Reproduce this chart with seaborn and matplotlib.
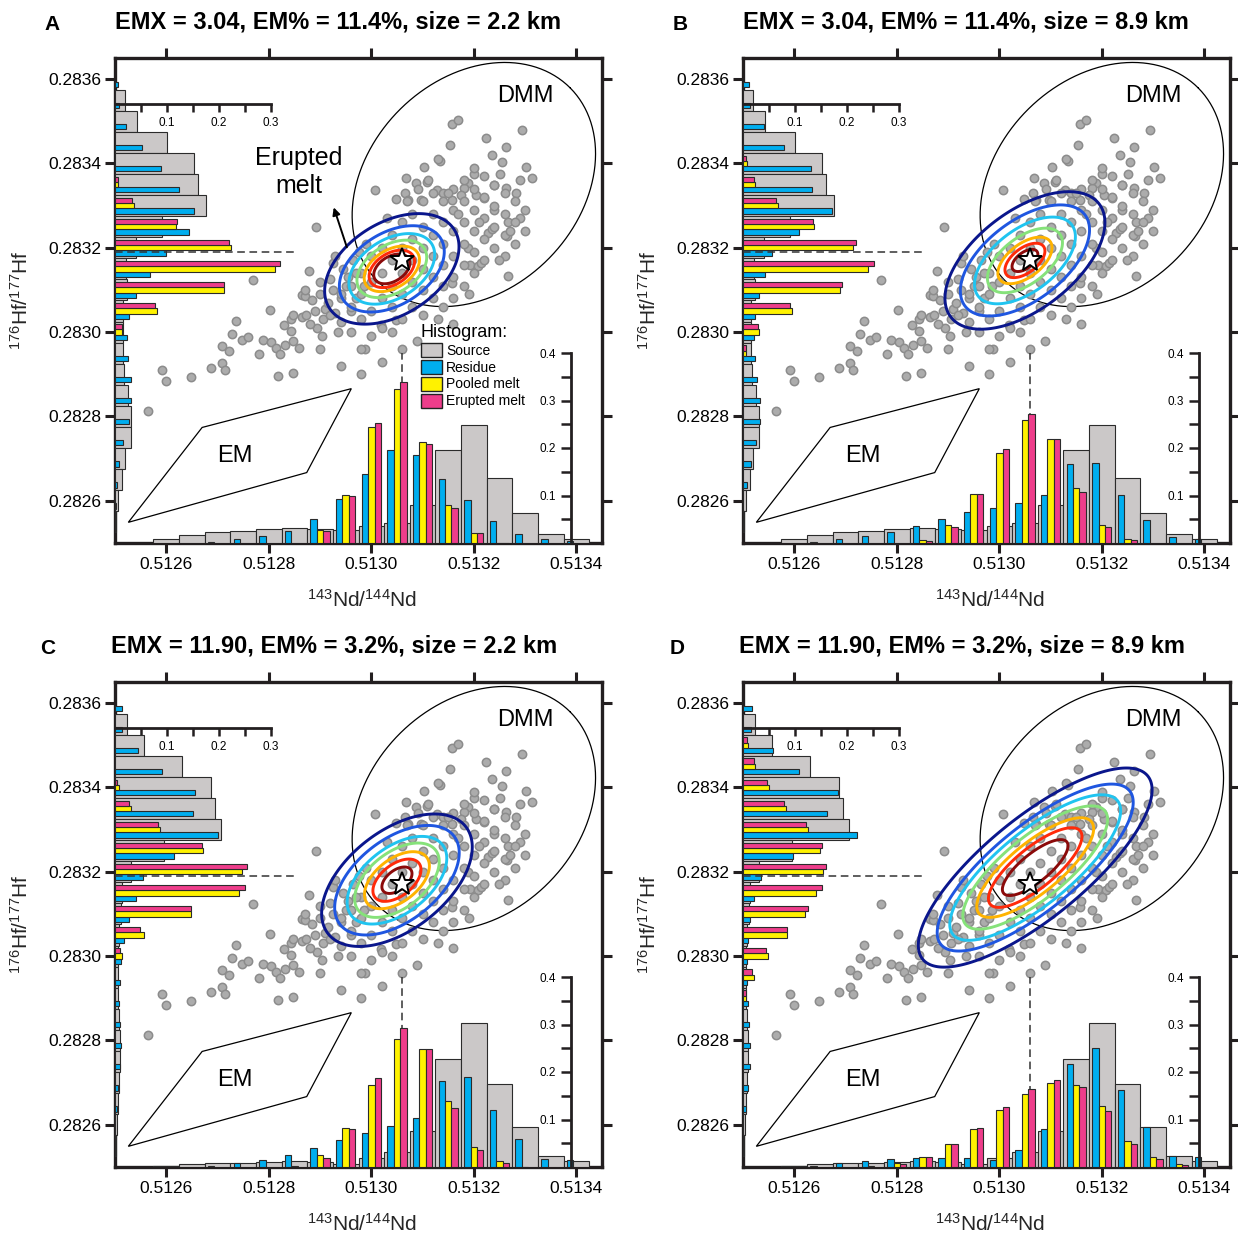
import numpy as np
import matplotlib
matplotlib.use("Agg")
import matplotlib.pyplot as plt
import seaborn as sns
from matplotlib.patches import Patch

sns.set_style("white")
plt.rcParams["font.family"] = ["Liberation Sans", "DejaVu Sans"]
plt.rcParams["mathtext.fontset"] = "custom"
plt.rcParams["mathtext.rm"] = "Liberation Sans"
plt.rcParams["mathtext.it"] = "Liberation Sans:italic"
plt.rcParams["mathtext.bf"] = "Liberation Sans:bold"
plt.rcParams["text.color"] = "black"
plt.rcParams["xtick.color"] = "black"
plt.rcParams["ytick.color"] = "black"

# ---------------- data ----------------
titles = ["EMX = 3.04, EM% = 11.4%, size = 2.2 km",
          "EMX = 3.04, EM% = 11.4%, size = 8.9 km",
          "EMX = 11.90, EM% = 3.2%, size = 2.2 km",
          "EMX = 11.90, EM% = 3.2%, size = 8.9 km"]
letters = ["A", "B", "C", "D"]

nd_ticks = [0.5126, 0.5128, 0.5130, 0.5132, 0.5134]
hf_ticks = [0.2826, 0.2828, 0.2830, 0.2832, 0.2834, 0.2836]

# histogram bin centres
nd_bins = [0.51260, 0.51265, 0.51270, 0.51275, 0.51280, 0.51285, 0.51290, 0.51295, 0.51300,
           0.51305, 0.51310, 0.51315, 0.51320, 0.51325, 0.51330, 0.51335, 0.51340]
hf_bins = [0.28360, 0.28355, 0.28350, 0.28345, 0.28340, 0.28335, 0.28330, 0.28325, 0.28320, 0.28315, 0.28310,
           0.28305, 0.28300, 0.28295, 0.28290, 0.28285, 0.28280, 0.28275, 0.28270, 0.28265, 0.28260, 0.28255]

# Nd histograms (fractions)
src_nd_ab = [0.009, 0.016, 0.023, 0.025, 0.030, 0.032, 0.030, 0.028, 0.035, 0.043, 0.080, 0.196, 0.248, 0.137, 0.063, 0.019, 0.008]
src_nd_cd = [0.003, 0.006, 0.008, 0.008, 0.011, 0.012, 0.010, 0.007, 0.020, 0.031, 0.075, 0.228, 0.303, 0.175, 0.084, 0.024, 0.012]
res_nd_a = [0, 0, 0.003, 0.009, 0.015, 0.025, 0.051, 0.093, 0.146, 0.196, 0.186, 0.135, 0.090, 0.046, 0.020, 0.009, 0.005]
res_nd_b = [0, 0.003, 0.008, 0.015, 0.024, 0.036, 0.051, 0.065, 0.074, 0.084, 0.101, 0.166, 0.168, 0.102, 0.048, 0.013, 0.008]
res_nd_c = [0, 0, 0.003, 0.008, 0.015, 0.026, 0.041, 0.057, 0.071, 0.087, 0.103, 0.182, 0.190, 0.119, 0.059, 0.017, 0.015]
res_nd_d = [0, 0.003, 0.008, 0.013, 0.017, 0.019, 0.019, 0.019, 0.014, 0.035, 0.080, 0.216, 0.250, 0.162, 0.085, 0.024, 0.022]
pool_nd_a = [0, 0, 0, 0, 0, 0, 0.028, 0.102, 0.244, 0.325, 0.213, 0.081, 0.021, 0.001, 0, 0, 0]
pool_nd_b = [0, 0, 0, 0, 0, 0.006, 0.038, 0.103, 0.189, 0.260, 0.219, 0.115, 0.038, 0.008, 0, 0, 0]
pool_nd_c = [0, 0, 0, 0, 0, 0.003, 0.026, 0.082, 0.173, 0.269, 0.248, 0.138, 0.043, 0.012, 0.001, 0, 0]
pool_nd_d = [0, 0, 0, 0.002, 0.008, 0.022, 0.048, 0.080, 0.119, 0.154, 0.176, 0.173, 0.129, 0.054, 0.021, 0.006, 0]
erup_nd_a = [0, 0, 0, 0, 0, 0, 0.025, 0.098, 0.253, 0.339, 0.208, 0.074, 0.021, 0.001, 0, 0, 0]
erup_nd_b = [0, 0, 0, 0, 0, 0.004, 0.033, 0.103, 0.198, 0.272, 0.220, 0.108, 0.033, 0.006, 0, 0, 0]
erup_nd_c = [0, 0, 0, 0, 0, 0, 0.019, 0.080, 0.188, 0.292, 0.248, 0.124, 0.035, 0.008, 0, 0, 0]
erup_nd_d = [0, 0, 0, 0, 0.006, 0.021, 0.048, 0.082, 0.126, 0.164, 0.183, 0.169, 0.118, 0.049, 0.017, 0.004, 0]

# Hf histograms (fractions), top bin first
src_hf_ab = [0, 0.020, 0.042, 0.100, 0.151, 0.160, 0.175, 0.090, 0.040, 0.022, 0.024,
             0.016, 0.016, 0.016, 0.018, 0.025, 0.030, 0.030, 0.020, 0.013, 0.006, 0.002]
src_hf_cd = [0, 0.023, 0.055, 0.129, 0.185, 0.193, 0.203, 0.094, 0.030, 0.013, 0.011,
             0.008, 0.005, 0.005, 0.006, 0.008, 0.009, 0.009, 0.007, 0.005, 0.003, 0.001]
res_hf_a = [0.005, 0.008, 0.022, 0.051, 0.089, 0.123, 0.152, 0.143, 0.098, 0.067, 0.041,
            0.027, 0.024, 0.025, 0.030, 0.031, 0.026, 0.016, 0.008, 0.003, 0.001, 0]
res_hf_b = [0.012, 0.014, 0.040, 0.079, 0.131, 0.133, 0.171, 0.108, 0.056, 0.043, 0.031,
            0.024, 0.022, 0.024, 0.027, 0.032, 0.033, 0.025, 0.016, 0.008, 0, 0]
res_hf_c = [0.013, 0.014, 0.045, 0.090, 0.153, 0.150, 0.199, 0.114, 0.054, 0.040, 0.027,
            0.017, 0.012, 0.010, 0.008, 0.010, 0.012, 0.010, 0.006, 0.004, 0, 0]
res_hf_d = [0.018, 0.016, 0.058, 0.108, 0.183, 0.162, 0.219, 0.096, 0.034, 0.022, 0.014,
            0.010, 0.008, 0.008, 0.010, 0.011, 0.013, 0.013, 0.010, 0.005, 0, 0]
pool_hf_a = [0, 0, 0, 0, 0, 0.006, 0.037, 0.118, 0.223, 0.308, 0.210, 0.080, 0.013, 0, 0, 0, 0, 0, 0, 0, 0, 0]
pool_hf_b = [0, 0, 0, 0, 0.008, 0.024, 0.067, 0.137, 0.212, 0.240, 0.187, 0.094, 0.031, 0.005, 0, 0, 0, 0, 0, 0, 0, 0]
pool_hf_c = [0, 0, 0, 0, 0.008, 0.030, 0.086, 0.170, 0.245, 0.238, 0.146, 0.055, 0.013, 0, 0, 0, 0, 0, 0, 0, 0, 0]
pool_hf_d = [0, 0, 0.010, 0.024, 0.050, 0.082, 0.125, 0.149, 0.154, 0.141, 0.119, 0.085, 0.048, 0.021, 0.006, 0, 0, 0, 0, 0, 0, 0]
erup_hf_a = [0, 0, 0, 0, 0, 0.005, 0.033, 0.120, 0.220, 0.317, 0.210, 0.077, 0.013, 0, 0, 0, 0, 0, 0, 0, 0, 0]
erup_hf_b = [0, 0, 0, 0, 0.006, 0.021, 0.064, 0.135, 0.217, 0.251, 0.190, 0.091, 0.029, 0.005, 0, 0, 0, 0, 0, 0, 0, 0]
erup_hf_c = [0, 0, 0, 0, 0.004, 0.026, 0.082, 0.168, 0.254, 0.250, 0.146, 0.049, 0.010, 0, 0, 0, 0, 0, 0, 0, 0, 0]
erup_hf_d = [0, 0, 0.008, 0.021, 0.046, 0.079, 0.122, 0.151, 0.160, 0.151, 0.125, 0.085, 0.045, 0.018, 0.005, 0, 0, 0, 0, 0, 0, 0]

src_nd = [src_nd_ab, src_nd_ab, src_nd_cd, src_nd_cd]
res_nd = [res_nd_a, res_nd_b, res_nd_c, res_nd_d]
pool_nd = [pool_nd_a, pool_nd_b, pool_nd_c, pool_nd_d]
erup_nd = [erup_nd_a, erup_nd_b, erup_nd_c, erup_nd_d]
src_hf = [src_hf_ab, src_hf_ab, src_hf_cd, src_hf_cd]
res_hf = [res_hf_a, res_hf_b, res_hf_c, res_hf_d]
pool_hf = [pool_hf_a, pool_hf_b, pool_hf_c, pool_hf_d]
erup_hf = [erup_hf_a, erup_hf_b, erup_hf_c, erup_hf_d]

# source sample compositions (143Nd/144Nd, 176Hf/177Hf)
sample_points = [
    (0.512564, 0.282814), (0.512592, 0.282911), (0.512600, 0.282885), (0.512649, 0.282894),
    (0.512688, 0.282915), (0.512708, 0.282927), (0.512715, 0.282911), (0.512708, 0.282968),
    (0.512723, 0.282956), (0.512729, 0.282996), (0.512736, 0.283027), (0.512747, 0.282982),
    (0.512759, 0.282989), (0.512770, 0.283124), (0.512780, 0.282948), (0.512788, 0.282982),
    (0.512803, 0.283053), (0.512805, 0.282976), (0.512814, 0.282963), (0.512817, 0.282897),
    (0.512822, 0.282948), (0.512830, 0.283018), (0.512831, 0.282970), (0.512843, 0.283002),
    (0.512844, 0.283030), (0.512848, 0.282903), (0.512848, 0.282978), (0.512848, 0.283041),
    (0.512859, 0.282963), (0.512864, 0.283037), (0.512864, 0.283089), (0.512870, 0.283085),
    (0.512872, 0.283041), (0.512879, 0.283144), (0.512890, 0.283051), (0.512892, 0.283250),
    (0.512895, 0.283010), (0.512903, 0.282992), (0.512910, 0.283055), (0.512925, 0.283164),
    (0.512930, 0.283045), (0.512941, 0.283023), (0.512988, 0.282959), (0.513019, 0.283018),
    (0.513048, 0.283028), (0.512870, 0.283100), (0.512885, 0.283075), (0.512900, 0.283090),
    (0.512915, 0.283070), (0.512880, 0.283020), (0.512925, 0.283100), (0.512940, 0.283080),
    (0.512950, 0.283110), (0.512905, 0.283030), (0.512935, 0.283000), (0.512960, 0.283050),
    (0.512955, 0.283130), (0.512970, 0.283080), (0.512920, 0.283125), (0.512945, 0.283150),
    (0.512965, 0.283170), (0.512980, 0.283140), (0.512985, 0.283110), (0.512975, 0.283190),
    (0.513158, 0.283493), (0.513170, 0.283502), (0.513294, 0.283479), (0.513224, 0.283461),
    (0.513154, 0.283443), (0.513263, 0.283439), (0.513236, 0.283420), (0.513255, 0.283404),
    (0.513134, 0.283405), (0.513302, 0.283392), (0.513103, 0.283392), (0.513251, 0.283376),
    (0.513201, 0.283375), (0.513314, 0.283365), (0.513290, 0.283361), (0.513067, 0.283365),
    (0.513088, 0.283353), (0.513108, 0.283357), (0.513189, 0.283353), (0.513181, 0.283342),
    (0.513240, 0.283349), (0.513263, 0.283341), (0.513283, 0.283331), (0.513007, 0.283337),
    (0.513065, 0.283331), (0.513092, 0.283339), (0.513129, 0.283337), (0.513139, 0.283329),
    (0.513048, 0.283315), (0.513072, 0.283313), (0.513096, 0.283313), (0.513158, 0.283313),
    (0.513174, 0.283325), (0.513205, 0.283325), (0.513220, 0.283317), (0.513240, 0.283290),
    (0.513267, 0.283262), (0.513290, 0.283270), (0.513265, 0.283228), (0.513228, 0.283235),
    (0.513236, 0.283245), (0.513193, 0.283160), (0.513209, 0.283156), (0.513213, 0.283164),
    (0.513189, 0.283200), (0.513267, 0.283132), (0.513158, 0.283116),
    (0.51296, 0.28300), (0.51296, 0.28306), (0.51296, 0.28311), (0.51298, 0.28303),
    (0.51298, 0.28309), (0.51298, 0.28296), (0.51300, 0.28305), (0.51300, 0.28312),
    (0.51300, 0.28299), (0.51300, 0.28318), (0.51302, 0.28308), (0.51302, 0.28301),
    (0.51302, 0.28314), (0.51302, 0.28320), (0.51304, 0.28306), (0.51304, 0.28311),
    (0.51304, 0.28317), (0.51304, 0.28323), (0.51304, 0.28300), (0.51306, 0.28309),
    (0.51306, 0.28314), (0.51306, 0.28320), (0.51306, 0.28303), (0.51306, 0.28326),
    (0.51308, 0.28312), (0.51308, 0.28317), (0.51308, 0.28306), (0.51308, 0.28322),
    (0.51308, 0.28328), (0.51310, 0.28310), (0.51310, 0.28315), (0.51310, 0.28320),
    (0.51310, 0.28325), (0.51310, 0.28304), (0.51310, 0.28331), (0.51312, 0.28313),
    (0.51312, 0.28318), (0.51312, 0.28323), (0.51312, 0.28308), (0.51312, 0.28328),
    (0.51312, 0.28333), (0.51314, 0.28316), (0.51314, 0.28321), (0.51314, 0.28311),
    (0.51314, 0.28326), (0.51314, 0.28331), (0.51314, 0.28306), (0.51316, 0.28318),
    (0.51316, 0.28324), (0.51316, 0.28313), (0.51316, 0.28329), (0.51316, 0.28334),
    (0.51316, 0.28308), (0.51318, 0.28321), (0.51318, 0.28326), (0.51318, 0.28316),
    (0.51318, 0.28331), (0.51318, 0.28336), (0.51318, 0.28311), (0.51320, 0.28319),
    (0.51320, 0.28324), (0.51320, 0.28329), (0.51320, 0.28334), (0.51320, 0.28314),
    (0.51320, 0.28339), (0.51322, 0.28322), (0.51322, 0.28327), (0.51322, 0.28332),
    (0.51322, 0.28317), (0.51322, 0.28337), (0.51324, 0.28325), (0.51324, 0.28330),
    (0.51324, 0.28320), (0.51324, 0.28335), (0.51326, 0.28323), (0.51326, 0.28328),
    (0.51326, 0.28333), (0.51326, 0.28318), (0.51328, 0.28326), (0.51328, 0.28331),
    (0.51328, 0.28321), (0.51330, 0.28329), (0.51330, 0.28324),
    (0.51315, 0.28333), (0.51317, 0.28328), (0.51321, 0.28326), (0.51327, 0.28324),
    (0.51325, 0.28317), (0.51319, 0.28309), (0.51313, 0.28303), (0.51306, 0.28296),
    (0.51302, 0.28293), (0.51298, 0.28290), (0.51294, 0.28292), (0.51290, 0.28296),
    (0.51292, 0.28304), (0.51294, 0.28309), (0.51290, 0.28312), (0.51293, 0.28318),
    (0.51297, 0.28314), (0.51299, 0.28321), (0.51303, 0.28327), (0.51307, 0.28331),
    (0.51311, 0.28336), (0.51313, 0.28341), (0.51309, 0.28298), (0.51316, 0.28302),
]

# DMM field (ellipse: centre, semi-axis vectors) and EM field (polygon)
dmm_center = (0.51320, 0.28335)
dmm_major = (0.000188, 0.000229)
dmm_minor = (-0.000145, 0.000177)
em_nd = [0.512526, 0.512670, 0.512961, 0.512874]
em_hf = [0.282549, 0.282774, 0.282866, 0.282667]

# erupted melt density (gaussian approximation) per panel
melt_center_nd = [0.51304, 0.51305, 0.51305, 0.51307]
melt_center_hf = [0.28315, 0.28317, 0.28318, 0.28321]
melt_sd_nd = [0.0000504, 0.0000600, 0.0000565, 0.0000877]
melt_sd_hf = [0.0000504, 0.0000627, 0.0000604, 0.0000908]
melt_rho = [0.40, 0.55, 0.50, 0.78]
melt_levels = [[0.70, 0.88, 1.07, 1.35, 1.66, 2.03, 2.60],
               [0.42, 0.65, 0.88, 1.22, 1.64, 2.10, 2.60],
               [0.52, 0.83, 1.12, 1.46, 1.72, 2.15, 2.60],
               [0.73, 1.04, 1.30, 1.61, 1.90, 2.18, 2.60]]
mean_erupted = (0.51306, 0.28317)
mean_line = (0.51306, 0.28319)

# ---------------- style ----------------
C_SRC, C_RES, C_POOL, C_ERUP = "#cbc8c8", "#00aeef", "#fff200", "#ee3d8b"
contour_colors = ["#8b0a0a", "#ff2a0a", "#ffb300", "#86e27a", "#20c4f0", "#1f56e0", "#0a168c"]
SPINE = "#231f20"
nd_lim = (0.51250, 0.51345)
hf_lim = (0.28250, 0.28365)
BW = 0.00005

W, H = 1238, 1235
panel_left = [115, 743, 115, 743]
panel_top = [58, 58, 682, 682]
title_pos = [(338, 22), (966, 22), (334, 646), (962, 646)]
letter_pos = [(52, 25), (680, 25), (48, 648), (677, 648)]


def rect(left, top, w=487, h=485):
    return [left / W, 1 - (top + h) / H, w / W, h / H]


def bars(axh, pos, vals, width, color, horizontal, z):
    pos = np.asarray(pos)
    vals = np.asarray(vals)
    m = vals > 0
    kw = dict(color=color, edgecolor="#2b2b2b", linewidth=0.8, zorder=z)
    if horizontal:
        axh.barh(pos[m], vals[m], height=width, **kw)
    else:
        axh.bar(pos[m], vals[m], width=width, **kw)


fig = plt.figure(figsize=(W / 100, H / 100), dpi=100)
sample_nd, sample_hf = np.array(sample_points).T


def draw_panel(i):
    ax = fig.add_axes(rect(panel_left[i], panel_top[i]))
    ax.set_facecolor("white")
    ax.set_xlim(nd_lim)
    ax.set_ylim(hf_lim)

    t = np.linspace(0, 2 * np.pi, 400)
    ax.plot(dmm_center[0] + dmm_major[0] * np.cos(t) + dmm_minor[0] * np.sin(t),
            dmm_center[1] + dmm_major[1] * np.cos(t) + dmm_minor[1] * np.sin(t),
            color="black", lw=0.9, zorder=2)
    ax.fill(em_nd, em_hf, facecolor="none", edgecolor="black", lw=0.9, zorder=2)
    ax.text(0.51330, 0.28356, "DMM", fontsize=17, ha="center", va="center")
    ax.text(0.512733, 0.282707, "EM", fontsize=17, ha="center", va="center")

    sns.scatterplot(x=sample_nd, y=sample_hf, ax=ax, s=36, color="#acacac",
                    edgecolor="#8c8c8c", linewidth=1.1, zorder=3)

    gx = np.linspace(nd_lim[0], nd_lim[1], 500)
    gy = np.linspace(hf_lim[0], hf_lim[1], 500)
    X, Y = np.meshgrid(gx, gy)
    dx = (X - melt_center_nd[i]) / melt_sd_nd[i]
    dy = (Y - melt_center_hf[i]) / melt_sd_hf[i]
    r = melt_rho[i]
    R = np.sqrt((dx ** 2 - 2 * r * dx * dy + dy ** 2) / (1 - r ** 2))
    ax.contour(X, Y, R, levels=melt_levels[i], colors=contour_colors, linewidths=2.1, zorder=4)
    ax.plot(mean_erupted[0], mean_erupted[1], marker="*", ms=18, mfc="white", mec="black",
            mew=1.4, zorder=6)

    for s in ax.spines.values():
        s.set_color(SPINE)
        s.set_linewidth(2.4)
        s.set_visible(True)
    ax.set_xticks(nd_ticks)
    ax.set_yticks(hf_ticks)
    ax.set_xticklabels([f"{v:.4f}" for v in nd_ticks])
    ax.set_yticklabels([f"{v:.4f}" for v in hf_ticks])
    ax.tick_params(which="major", direction="out", length=7, width=2.2,
                   bottom=True, left=True, top=True, right=True,
                   labeltop=False, labelright=False, labelsize=12.5, pad=3, color=SPINE)
    ax.set_xlabel(r"$^{143}$Nd/$^{144}$Nd", fontsize=15)
    ax.set_ylabel(r"$^{176}$Hf/$^{177}$Hf", fontsize=15)
    ax.xaxis.set_label_coords(0.507, -0.095)
    ax.yaxis.set_label_coords(-0.17, 0.5)

    # left histogram (Hf)
    axl = fig.add_axes(rect(panel_left[i], panel_top[i]))
    axl.patch.set_alpha(0)
    axl.set_ylim(hf_lim)
    axl.set_xlim(0, 487 / 520)
    hb = np.asarray(hf_bins)
    bars(axl, hb, src_hf[i], BW, C_SRC, True, 1)
    bars(axl, hb - BW / 4, res_hf[i], BW / 4, C_RES, True, 2)
    bars(axl, hb, pool_hf[i], BW / 4, C_POOL, True, 2)
    bars(axl, hb + BW / 4, erup_hf[i], BW / 4, C_ERUP, True, 2)
    axl.plot([0, 0.352], [mean_line[1]] * 2, ls=(0, (5, 3)), color="#333333", lw=1.1, zorder=3)
    for k, s in axl.spines.items():
        s.set_visible(k == "bottom")
    axl.spines["bottom"].set_position(("data", 0.28354))
    axl.spines["bottom"].set_bounds(0, 0.3)
    axl.spines["bottom"].set_linewidth(2.0)
    axl.spines["bottom"].set_color(SPINE)
    axl.set_yticks([])
    axl.set_xticks([0.05, 0.1, 0.15, 0.2, 0.25, 0.3])
    axl.set_xticklabels(["", "0.1", "", "0.2", "", "0.3"])
    axl.tick_params(axis="x", direction="out", bottom=True, length=6, width=1.8,
                    labelsize=8.5, pad=3, color=SPINE)

    # bottom histogram (Nd)
    axb = fig.add_axes(rect(panel_left[i], panel_top[i]))
    axb.patch.set_alpha(0)
    axb.set_xlim(nd_lim)
    axb.set_ylim(0, 485 / 475)
    nb = np.asarray(nd_bins)
    axb.plot([mean_line[0]] * 2, [0, 0.4], ls=(0, (5, 3)), color="#333333", lw=1.1, zorder=0.5)
    bars(axb, nb, src_nd[i], BW, C_SRC, False, 1)
    bars(axb, nb - BW / 4, res_nd[i], BW / 4, C_RES, False, 2)
    bars(axb, nb, pool_nd[i], BW / 4, C_POOL, False, 2)
    bars(axb, nb + BW / 4, erup_nd[i], BW / 4, C_ERUP, False, 2)
    for k, s in axb.spines.items():
        s.set_visible(k == "left")
    axb.spines["left"].set_position(("data", 0.51339))
    axb.spines["left"].set_bounds(0, 0.4)
    axb.spines["left"].set_linewidth(2.0)
    axb.spines["left"].set_color(SPINE)
    axb.set_xticks([])
    axb.set_yticks([0.05, 0.1, 0.15, 0.2, 0.25, 0.3, 0.35, 0.4])
    axb.set_yticklabels(["", "0.1", "", "0.2", "", "0.3", "", "0.4"])
    axb.tick_params(axis="y", direction="out", left=True, length=7, width=1.8,
                    labelsize=8.5, pad=4, color=SPINE)

    fig.text(title_pos[i][0] / W, 1 - title_pos[i][1] / H, titles[i], fontsize=17,
             fontweight="bold", ha="center", va="center")
    fig.text(letter_pos[i][0] / W, 1 - letter_pos[i][1] / H, letters[i], fontsize=15,
             fontweight="bold", ha="center", va="center")
    return ax


axA = draw_panel(0)
for j in range(1, 4):
    draw_panel(j)

# annotations only in panel A
axA.text(0.512858, 0.283379, "Erupted\nmelt", fontsize=18, ha="center", va="center", linespacing=1.2)
axA.annotate("", xy=(0.512925, 0.283302), xytext=(0.512954, 0.283195),
             arrowprops=dict(arrowstyle="-|>", color="black", lw=1.4, mutation_scale=11), zorder=7)
handles = [Patch(facecolor=C_SRC, edgecolor="#222222", label="Source"),
           Patch(facecolor=C_RES, edgecolor="#222222", label="Residue"),
           Patch(facecolor=C_POOL, edgecolor="#222222", label="Pooled melt"),
           Patch(facecolor=C_ERUP, edgecolor="#222222", label="Erupted melt")]
leg = axA.legend(handles=handles, title="Histogram:", loc="upper left", bbox_to_anchor=(0.628, 0.452),
                 frameon=False, fontsize=10, title_fontsize=13, alignment="left", handlelength=1.5,
                 handleheight=1.2, labelspacing=0.15, handletextpad=0.3, borderpad=0, borderaxespad=0)

fig.savefig("out.png", dpi=100)
